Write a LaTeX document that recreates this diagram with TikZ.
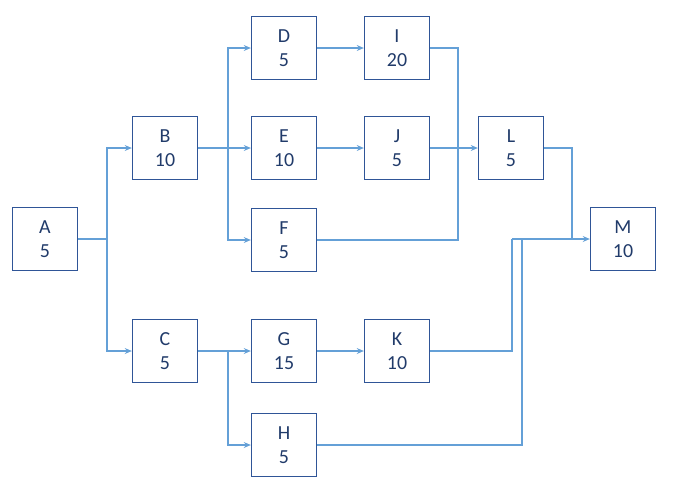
\documentclass[tikz,border=0pt]{standalone}
\usepackage{fontspec}
\setmainfont{Carlito}
\usetikzlibrary{arrows.meta,calc}
\definecolor{boxblue}{RGB}{47,85,151}
\definecolor{lineblue}{RGB}{100,160,215}

\begin{document}
\begin{tikzpicture}[
    x=0.03cm, y=-0.03cm,
    task/.style={rectangle, draw=boxblue, line width=1.1pt, minimum width=1.95cm, minimum height=1.9cm, align=center, font=\fontsize{17}{21}\selectfont, text=boxblue!70!black},
    arrow/.style={-{Stealth[length=6pt,width=5pt]}, lineblue, line width=1pt},
    link/.style={lineblue, line width=1pt}
]
\useasboundingbox (0,0) rectangle (673,498);

% Tasks
\node[task] (a) at (45,239) {A\\5};
\node[task] (b) at (165,148) {B\\10};
\node[task] (c) at (165,351) {C\\5};
\node[task] (d) at (284,48) {D\\5};
\node[task] (e) at (284,148) {E\\10};
\node[task] (f) at (284,240) {F\\5};
\node[task] (g) at (284,351) {G\\15};
\node[task] (h) at (284,445) {H\\5};
\node[task] (i) at (397,48) {I\\20};
\node[task] (j) at (397,148) {J\\5};
\node[task] (k) at (397,351) {K\\10};
\node[task] (l) at (511,148) {L\\5};
\node[task] (m) at (623,239) {M\\10};

% Junctions
\coordinate (ja) at (107,239);
\coordinate (jb) at (228,148);
\coordinate (jc) at (228,351);
\coordinate (jl) at (458,148);
\coordinate (jm) at (572,239);
\coordinate (jk) at (512,239);
\coordinate (jh) at (522,239);

% A to B and C
\draw[link] (a) -- (ja);
\draw[arrow] (ja) |- (b);
\draw[arrow] (ja) |- (c);

% B to D, E, F
\draw[arrow] (b) -- (e);
\draw[arrow] (jb) |- (d);
\draw[arrow] (jb) |- (f);

% C to G, H
\draw[arrow] (c) -- (g);
\draw[arrow] (jc) |- (h);

% Second column
\draw[arrow] (d) -- (i);
\draw[arrow] (e) -- (j);
\draw[arrow] (g) -- (k);

% Into L
\draw[link] (i.east) -| (jl);
\draw[link] (f.east) -| (jl);
\draw[arrow] (j) -- (l);

% Into M
\draw[link] (l.east) -| (jm);
\draw[link] (k.east) -| (jk);
\draw[link] (h.east) -| (jh);
\draw[arrow] (jk) -- (m);
\end{tikzpicture}
\end{document}
